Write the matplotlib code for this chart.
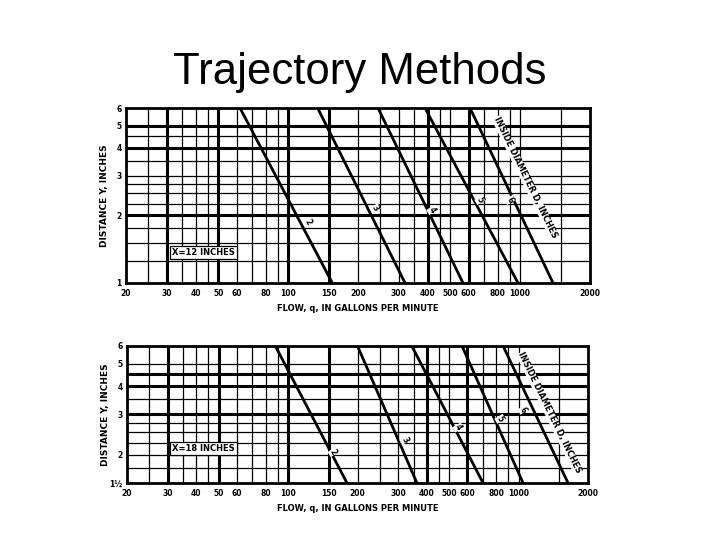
#!/usr/bin/env python3
"""
Trajectory Methods - pipe-flow trajectory nomograph (scan recreation).
Two log-log panels: distance Y (inches) vs flow q (gpm) for X = 12 and X = 18 inches,
one straight line per inside diameter D = 2..6 in.
Run: python3 plot.py -> out.png
"""
import matplotlib; matplotlib.use("Agg")
import matplotlib.pyplot as plt

# ---- data ----
DIAMS = ["2", "3", "4", "5", "6"]
# X = 12 in panel: flow where each D line meets Y=6 (top) and Y=1 (bottom)
TOP_Y = [6, 1]
TOP_Q_HI = [62, 134, 244, 389, 608]
TOP_Q_LO = [155, 319, 567, 979, 1386]
# X = 18 in panel: flow at Y=6 and at Y=1.5
BOT_Y = [6, 1.5]
BOT_Q_HI = [88, 200, 344, 568, 856]
BOT_Q_LO = [180, 362, 701, 1045, 1638]

Q_TICKS = [20, 30, 40, 50, 60, 80, 100, 150, 200, 300, 400, 500, 600, 800, 1000, 2000]
Q_GRID = [25, 30, 35, 40, 45, 50, 60, 70, 80, 90, 100, 150, 200, 250, 300, 350, 400,
          450, 500, 600, 700, 800, 900, 1000, 1500]
Q_HEAVY = [30, 50, 100, 150, 400, 600]
TOP_YTICKS = [1, 2, 3, 4, 5, 6]; TOP_YLABELS = ["1", "2", "3", "4", "5", "6"]
BOT_YTICKS = [1.5, 2, 3, 4, 5, 6]; BOT_YLABELS = ["1½", "2", "3", "4", "5", "6"]
TOP_YGRID = [1.25, 1.5, 1.75, 2, 2.25, 2.5, 2.75, 3, 3.5, 4, 4.5, 5]
BOT_YGRID = [1.75, 2, 2.25, 2.5, 2.75, 3, 3.5, 4, 4.5, 5]
TOP_YHEAVY = [2, 4, 5]; BOT_YHEAVY = [3, 4, 4.5]
# where the D labels sit on each panel (q, y)
TOP_LAB_Q = [122, 237, 417, 671, 904]; TOP_LAB_Y = [1.87, 2.15, 2.11, 2.34, 2.34]
BOT_LAB_Q = [157, 321, 546, 830, 1045]; BOT_LAB_Y = [2.05, 2.32, 2.63, 2.87, 3.15]

FONT = dict(family="DejaVu Sans", fontweight="bold")

def panel(ax, ylims, ygrid, yheavy, yticks, ylabels, q_hi, q_lo, yy, lab_q, lab_y,
          xtext, side_q, side_y):
    ax.set_xscale("log"); ax.set_yscale("log")
    ax.set_xlim(20, 2000); ax.set_ylim(*ylims)
    for q in Q_GRID:
        ax.axvline(q, color="black", lw=2.2 if q in Q_HEAVY else 0.9, zorder=1)
    for y in ygrid:
        ax.axhline(y, color="black", lw=2.2 if y in yheavy else 0.9, zorder=1)
    for d, qh, ql in zip(DIAMS, q_hi, q_lo):
        ax.plot([qh, ql], yy, color="black", lw=2.0, zorder=3)
    for d, lq, ly in zip(DIAMS, lab_q, lab_y):
        ax.text(lq, ly, d, fontsize=5.5, rotation=-60, ha="center", va="center",
                bbox=dict(fc="white", ec="none", pad=0.3), zorder=4, **FONT)
    ax.text(*xtext, fontsize=6, ha="left", va="center", zorder=4,
            bbox=dict(fc="white", ec="black", lw=0.9, pad=1.5), **FONT)
    ax.text(side_q, side_y, "INSIDE DIAMETER D, INCHES", fontsize=6, rotation=-64,
            ha="center", va="center", rotation_mode="anchor", zorder=4,
            bbox=dict(fc="white", ec="none", pad=0.2), **FONT)
    ax.minorticks_off()
    ax.set_xticks(Q_TICKS); ax.set_xticklabels([str(q) for q in Q_TICKS], fontsize=5.5, **FONT)
    ax.set_yticks(yticks); ax.set_yticklabels(ylabels, fontsize=5.5, **FONT)
    ax.tick_params(length=0, pad=4)
    ax.tick_params(axis="y", pad=3)
    for s in ax.spines.values(): s.set_linewidth(2.0)
    ax.set_xlabel("FLOW, q, IN GALLONS PER MINUTE", fontsize=6, labelpad=5, **FONT)
    ax.set_ylabel("DISTANCE Y, INCHES", fontsize=6.5, **FONT)
    ax.yaxis.set_label_coords(-0.036, 0.5)

fig = plt.figure(figsize=(7.2, 5.4), dpi=100)
fig.text(0.5, 0.844, "Trajectory Methods", ha="center", va="baseline",
         fontsize=31.5, family="Liberation Sans")

ax1 = fig.add_axes([0.175, 0.476, 0.6444, 0.324])
panel(ax1, (1, 6), TOP_YGRID, TOP_YHEAVY, TOP_YTICKS, TOP_YLABELS, TOP_Q_HI, TOP_Q_LO,
      TOP_Y, TOP_LAB_Q, TOP_LAB_Y, (31.5, 1.37, "X=12 INCHES"), 1050, 2.95)

ax2 = fig.add_axes([0.1764, 0.1056, 0.6403, 0.2537])
panel(ax2, (1.5, 6), BOT_YGRID, BOT_YHEAVY, BOT_YTICKS, BOT_YLABELS, BOT_Q_HI, BOT_Q_LO,
      BOT_Y, BOT_LAB_Q, BOT_LAB_Y, (31.5, 2.12, "X=18 INCHES"), 1360, 3.05)

fig.savefig("out.png", dpi=100)
